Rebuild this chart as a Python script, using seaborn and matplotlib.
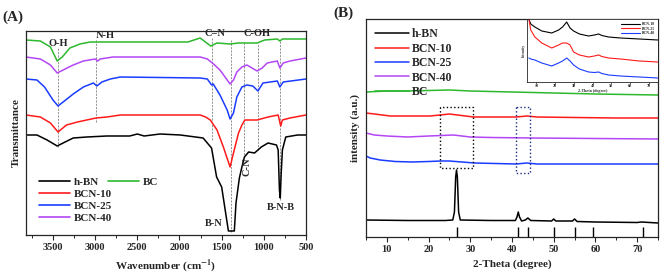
import numpy as np
import pandas as pd
import matplotlib
matplotlib.use("Agg")
import matplotlib.pyplot as plt
from matplotlib.lines import Line2D
import seaborn as sns

# ---------------- data: FTIR (panel A), offset transmittance (a.u.) ----------------
ftir_hbn_w = [3820, 3690, 3570, 3450, 3380, 3260, 3100, 2860, 2590, 2500, 2420, 2230, 1990,
              1720, 1620, 1560, 1500, 1440, 1420, 1350, 1330, 1290, 1260, 1230, 1180, 1110,
              1030, 950, 850, 830, 815, 805, 795, 780, 740, 600, 500]
ftir_hbn_t = [100, 100, 95, 89, 92, 97, 98, 99, 99, 101, 99, 101, 100,
              97, 87, 58, 48, 15, 4, 4, 32, 57, 68, 78, 83, 82,
              88, 92, 90, 85, 45, 37, 60, 85, 98, 100, 100]

ftir_bcn10_w = [3820, 3650, 3530, 3440, 3340, 3210, 3100, 2990, 2860, 2700, 1755, 1690, 1635,
                1555, 1480, 1400, 1360, 1300, 1260, 1225, 1200, 1080, 950, 830, 800, 780, 690, 500]
ftir_bcn10_t = [120, 118, 112, 103, 110, 113, 115, 117, 118, 120, 120, 118, 115,
                105, 88, 68, 82, 102, 110, 115, 115, 115, 118, 120, 109, 115, 117, 120]

ftir_bcn25_w = [3820, 3690, 3600, 3500, 3440, 3380, 3260, 3140, 3020, 2980, 2920, 2820, 2700,
                1755, 1670, 1620, 1600, 1520, 1435, 1400, 1360, 1320, 1260, 1200, 1130, 1070,
                1010, 840, 810, 770, 500]
ftir_bcn25_t = [156, 155, 148, 135, 129, 133, 141, 148, 152, 149, 153, 156, 158,
                157, 156, 150, 151, 140, 125, 116, 122, 138, 148, 150, 149, 144,
                152, 154, 148, 153, 156]

ftir_bcn40_w = [3820, 3650, 3530, 3450, 3380, 3260, 3140, 3000, 2970, 2940, 2790, 1755, 1670,
                1610, 1520, 1400, 1360, 1320, 1260, 1200, 1140, 1080, 1020, 960, 840, 810,
                770, 690, 500]
ftir_bcn40_t = [178, 176, 170, 162, 165, 170, 174, 176, 174, 176, 178, 178, 176,
                172, 165, 151, 155, 163, 168, 170, 167, 164, 167, 172, 174, 167,
                172, 174, 177]

ftir_bc_w = [3820, 3650, 3530, 3450, 3390, 3300, 3180, 3060, 2880, 1900, 1755, 1630, 1555,
             1400, 1300, 1080, 990, 840, 810, 780, 500]
ftir_bc_t = [195, 194, 188, 174, 178, 187, 191, 193, 193, 193, 197, 189, 192,
             191, 192, 192, 195, 196, 194, 196, 196]

# band positions (cm-1) marked with dashed lines: position, top, bottom
band_pos = [3440, 2990, 1620, 1395, 1240, 1070, 810]
band_top = [188, 195, 197, 195, 192, 192, 195]
band_bot = [88, 113, 95, 3, 77, 85, 35]

# ---------------- data: XRD (panel B), offset intensity (a.u.) ----------------
xrd_hbn_x = [5, 15, 24, 25.8, 26.2, 26.5, 26.7, 26.9, 27.2, 27.6, 35, 40.8, 41.2, 41.5, 41.8,
             42.3, 43.2, 43.8, 44.5, 49.5, 50.0, 50.5, 54.5, 55.0, 55.6, 60, 70, 71, 75]
xrd_hbn_y = [17, 16.5, 16.5, 17, 25, 60, 67, 60, 25, 17, 16.5, 16.5, 20, 25, 20,
             16, 17, 19, 16.5, 16, 18, 16, 16, 18, 15.5, 15, 14.5, 15, 14]

xrd_bcn10_x = [5, 7, 10.8, 15, 20.4, 25, 30.8, 35, 41, 43.6, 46, 55, 65, 75]
xrd_bcn10_y = [124, 123, 121, 121, 121, 123, 120, 120, 120, 121, 120, 119.5, 119, 119]

xrd_bcn25_x = [5, 6, 8.4, 12, 16, 20, 23, 25, 28, 31, 36, 41, 43.6, 46, 55, 75]
xrd_bcn25_y = [81, 79, 77, 75.5, 75, 75.5, 76, 76, 75, 74, 73.5, 73, 74, 73, 73, 73]

xrd_bcn40_x = [5, 7, 10, 15, 20, 26, 30, 35, 45, 60, 75]
xrd_bcn40_y = [104, 102, 101, 100, 101, 102, 100, 99.5, 99, 98.5, 98]

xrd_bc_x = [5, 10, 15, 20, 25, 30, 40, 50, 60, 75]
xrd_bc_y = [145, 146, 146, 146.5, 147, 146, 145, 144, 143, 142]

# h-BN reference reflections (2-theta)
ref_peaks = [26.7, 41.5, 43.9, 50.1, 55.0, 59.5, 71.3]

# inset: enlarged BCN patterns
ins_x = [6, 7, 9.2, 12.9, 18.2, 21.9, 24, 26.2, 28, 29.9, 33, 37.9, 41, 43.3, 45, 48.6, 55, 65, 75]
ins_bcn10 = [63, 58, 55, 51, 49, 52, 55, 60, 54, 51, 48, 46, 47, 48, 46.5, 45, 44, 43, 42]
ins_bcn25 = [63, 52, 45, 39, 34, 37, 39, 39, 37, 30, 27, 25, 26, 27, 25.5, 24, 23, 21, 20]
ins_bcn40 = [24, 23, 22, 19, 16, 19, 21, 24, 21, 17, 13, 10, 9.5, 10, 8.5, 7, 6, 5, 4]

names = ["h-BN", "BCN-10", "BCN-25", "BCN-40", "BC"]
colors = {"h-BN": "black", "BCN-10": "#ff1a1a", "BCN-25": "#1a3cff",
          "BCN-40": "#b347f5", "BC": "#2db82d"}

sns.set_style("ticks")
plt.rcParams["font.family"] = ["Liberation Serif", "DejaVu Serif"]
plt.rcParams["font.weight"] = "bold"
plt.rcParams["axes.labelweight"] = "bold"
plt.rcParams["mathtext.fontset"] = "stix"

W, H = 661, 274
fig = plt.figure(figsize=(W / 100, H / 100), dpi=100)


def px_axes(l, t, r, b):
    return fig.add_axes([l / W, 1 - b / H, (r - l) / W, (b - t) / H])


# ---------------- panel A ----------------
axA = px_axes(26, 31, 306, 235)
ftir = {
    "h-BN": (ftir_hbn_w, ftir_hbn_t),
    "BCN-10": (ftir_bcn10_w, ftir_bcn10_t),
    "BCN-25": (ftir_bcn25_w, ftir_bcn25_t),
    "BCN-40": (ftir_bcn40_w, ftir_bcn40_t),
    "BC": (ftir_bc_w, ftir_bc_t),
}
for name in names:
    w, t = ftir[name]
    df = pd.DataFrame({"w": w, "t": t})
    sns.lineplot(data=df, x="w", y="t", color=colors[name], lw=1.1, ax=axA, sort=False)

for p, t0, b0 in zip(band_pos, band_top, band_bot):
    axA.plot([p, p], [b0, t0], ls=(0, (2.5, 1.5)), color="#808080", lw=0.6, zorder=0)

axA.set_xlim(3820, 500)
axA.set_ylim(0, 204)
axA.set_xticks([3500, 3000, 2500, 2000, 1500, 1000, 500])
axA.set_xticks(np.arange(3750, 500, -250), minor=True)
axA.set_yticks([])
axA.tick_params(axis="x", direction="out", length=3.5, width=0.8, labelsize=7.5, pad=2)
axA.tick_params(axis="x", which="minor", length=2, width=0.7)
for lbl in axA.get_xticklabels():
    lbl.set_fontweight("bold")
axA.set_xlabel("Wavenumber (cm$^{\\mathbf{-1}}$)", fontsize=8, labelpad=4)
axA.set_ylabel("Transmittance", fontsize=8, labelpad=4)
for s in axA.spines.values():
    s.set_linewidth(0.9)

ann = dict(fontsize=7.5, fontweight="bold", ha="center", va="center")
axA.text(3440, 191, "O-H", **ann)
axA.text(2880, 199, "N-H", **ann)
axA.text(1580, 201, "C=N", **ann)
axA.text(1080, 201, "C-OH", **ann)
axA.text(1200, 68, "C-N", rotation=90, **ann)
axA.text(1590, 12, "B-N", **ann)
axA.text(800, 27, "B-N-B", **ann)

hA = [Line2D([], [], color=colors[n], lw=1.2) for n in ["h-BN", "BCN-10", "BCN-25", "BCN-40"]]
legA = axA.legend(hA, ["h-BN", "BCN-10", "BCN-25", "BCN-40"], loc="upper left",
                  bbox_to_anchor=(0.02, 0.32), frameon=False, fontsize=8, handlelength=2.8,
                  handletextpad=0.3, labelspacing=0.18, borderpad=0.2)
axA.add_artist(legA)
axA.legend([Line2D([], [], color=colors["BC"], lw=1.2)], ["BC"], loc="upper left",
           bbox_to_anchor=(0.265, 0.32), frameon=False, fontsize=8, handlelength=2.8,
           handletextpad=0.3, borderpad=0.2)

# ---------------- panel B ----------------
axB = px_axes(366, 19, 658, 237)
xrd = {
    "h-BN": (xrd_hbn_x, xrd_hbn_y),
    "BCN-10": (xrd_bcn10_x, xrd_bcn10_y),
    "BCN-25": (xrd_bcn25_x, xrd_bcn25_y),
    "BCN-40": (xrd_bcn40_x, xrd_bcn40_y),
    "BC": (xrd_bc_x, xrd_bc_y),
}
for name in names:
    x, y = xrd[name]
    sns.lineplot(x=x, y=y, color=colors[name], lw=1.1, ax=axB, label=name)

axB.vlines(ref_peaks, 0, 10, color="black", lw=1.0)
axB.plot([22.7, 22.7, 30.6, 30.6, 22.7], [130, 69, 69, 130, 130], ls=":", color="black", lw=1.0)
axB.plot([41, 41, 44.4, 44.4, 41], [130, 64, 64, 130, 130], ls=":", color="#1a2a80", lw=1.0)

axB.set_xlim(5, 75)
axB.set_ylim(0, 218)
axB.set_xticks(range(10, 80, 10))
axB.set_xticks(range(5, 80, 5), minor=True)
axB.set_yticks([])
axB.tick_params(axis="x", direction="out", length=3.5, width=0.8, labelsize=7.5, pad=2)
axB.tick_params(axis="x", which="minor", length=2, width=0.7)
for lbl in axB.get_xticklabels():
    lbl.set_fontweight("bold")
axB.set_xlabel("2-Theta (degree)", fontsize=8, labelpad=4)
axB.set_ylabel("intensity (a.u.)", fontsize=8, labelpad=4)
for s in axB.spines.values():
    s.set_linewidth(0.9)
axB.legend(loc="upper left", bbox_to_anchor=(0.0, 1.0), frameon=False, fontsize=8.5,
           handlelength=2.8, handletextpad=0.3, labelspacing=0.2, borderpad=0.3)

# inset
axI = px_axes(527, 19, 658, 82)
for lab, vals, c in [("BCN-10", ins_bcn10, "black"), ("BCN-25", ins_bcn25, "#ff1a1a"),
                     ("BCN-40", ins_bcn40, "#1a3cff")]:
    sns.lineplot(x=ins_x, y=vals, color=c, lw=0.8, ax=axI, label=lab)
axI.set_xlim(5, 75)
axI.set_ylim(0, 63)
axI.set_xticks(range(10, 80, 10))
axI.set_yticks([])
axI.tick_params(axis="x", direction="out", length=1.2, width=0.5, labelsize=3, pad=0.5)
axI.set_xlabel("2-Theta (degree)", fontsize=3, labelpad=0.5)
axI.set_ylabel("Intensity", fontsize=2.5, labelpad=1)
for s in axI.spines.values():
    s.set_linewidth(0.6)
axI.legend(loc="upper right", frameon=False, fontsize=2.8, handlelength=5,
           handletextpad=0.4, labelspacing=0.1, borderpad=0.3)

fig.text(2 / W, 1 - 17 / H, "(A)", fontsize=11, fontweight="bold", va="center", ha="left")
fig.text(333 / W, 1 - 13 / H, "(B)", fontsize=11, fontweight="bold", va="center", ha="left")

fig.savefig("out.png", dpi=100)
